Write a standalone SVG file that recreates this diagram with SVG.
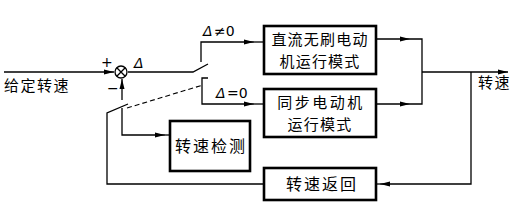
<svg xmlns="http://www.w3.org/2000/svg" width="520" height="214" viewBox="0 0 520 214">
<style>
.box{fill:#fff;stroke:#000;stroke-width:2.6}
.ln{fill:none;stroke:#000;stroke-width:1.3}
.dash{fill:none;stroke:#000;stroke-width:1.1;stroke-dasharray:5 3}
.t{font-family:"Noto Sans CJK SC","Noto Sans",sans-serif;font-size:16px;fill:#000}
.b{font-size:15px}
.s{font-family:"DejaVu Sans","Liberation Sans",sans-serif;font-size:14px;fill:#000}
</style>
<defs>
<marker id="ah" viewBox="0 0 10 6" refX="10" refY="3" markerWidth="10" markerHeight="6" markerUnits="userSpaceOnUse" orient="auto">
<path d="M0,0.5 L10,3 L0,5.5 Z" fill="#000"/>
</marker>
</defs>
<rect width="520" height="214" fill="#fff"/>
<g id="connectors">
<path class="ln" d="M4,72 H114" marker-end="url(#ah)"/>
<path class="ln" d="M128,72 H193 L208,64"/>
<path class="ln" d="M201,62 V42 H254" marker-end="url(#ah)"/>
<path class="ln" d="M254,42 H264"/>
<path class="ln" d="M208,78 H202 V104 H254" marker-end="url(#ah)"/>
<path class="ln" d="M254,104 H264"/>
<path class="ln" d="M376,39 H410" marker-end="url(#ah)"/>
<path class="ln" d="M410,39 H422 V104 H410"/>
<path class="ln" d="M376,104 H410" marker-end="url(#ah)"/>
<path class="ln" d="M422,72 H508" marker-end="url(#ah)"/>
<path class="ln" d="M471,72 V184 H380" marker-end="url(#ah)"/>
<path class="ln" d="M380,184 H376"/>
<path class="ln" d="M264,184 H107 V113 L128,104"/>
<path class="ln" d="M122,100 V79" marker-end="url(#ah)"/>
<path class="ln" d="M122,108 V135 H165" marker-end="url(#ah)"/>
<path class="ln" d="M165,135 H170"/>
<path class="dash" d="M127,108 L203,85"/>
</g>
<g id="sum">
<circle class="ln" cx="121" cy="72" r="6"/>
<path class="ln" d="M116.8,67.8 L125.2,76.2 M125.2,67.8 L116.8,76.2"/>
<text class="s" x="101" y="67">+</text>
<text class="s" x="107" y="93">−</text>
<text class="s" x="134" y="68" font-style="italic">Δ</text>
</g>
<g id="labels">
<text class="t b" x="4" y="91" letter-spacing="1.5">给定转速</text>
<text class="s" x="203" y="36" font-style="italic">Δ</text><text class="s" x="214" y="36">≠0</text>
<text class="s" x="216" y="98" font-style="italic">Δ</text><text class="s" x="227" y="98">=0</text>
<text class="t b" x="478" y="88" letter-spacing="1.5">转速</text>
</g>
<g id="bldc">
<rect class="box" x="264" y="26" width="112" height="48"/>
<text class="t b" x="320" y="45" text-anchor="middle" letter-spacing="1.2">直流无刷电动</text>
<text class="t b" x="320" y="67" text-anchor="middle" letter-spacing="1.2">机运行模式</text>
</g>
<g id="sync">
<rect class="box" x="264" y="89" width="112" height="48"/>
<text class="t b" x="321" y="108" text-anchor="middle" letter-spacing="2.5">同步电动机</text>
<text class="t b" x="320" y="130" text-anchor="middle" letter-spacing="1.2">运行模式</text>
</g>
<g id="detect">
<rect class="box" x="170" y="121" width="80" height="50"/>
<text class="t" x="211" y="152" text-anchor="middle" letter-spacing="2">转速检测</text>
</g>
<g id="return">
<rect class="box" x="264" y="168" width="112" height="32"/>
<text class="t" x="322" y="190" text-anchor="middle" letter-spacing="2">转速返回</text>
</g>
</svg>
